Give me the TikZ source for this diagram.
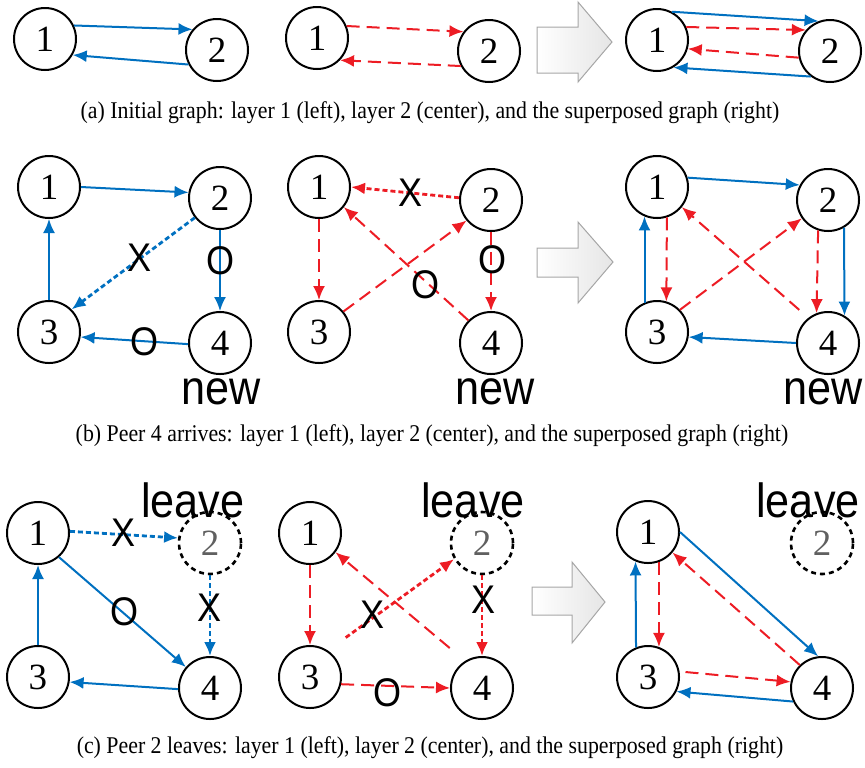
\documentclass[tikz,border=0pt]{standalone}
\usepackage{fontspec}
\setmainfont{Liberation Serif}
\newfontfamily\labelfont{Liberation Sans}
\usepackage{tikz}
\usetikzlibrary{arrows.meta}
\definecolor{myblue}{RGB}{0,112,192}
\definecolor{myred}{RGB}{237,28,36}
\tikzset{
  peer/.style={circle,draw,line width=1pt,inner sep=0pt,minimum size=31pt,font=\fontsize{18.5}{20}\selectfont},
  gone/.style={peer,dash pattern=on 2.5pt off 2pt,line width=1.3pt,text=gray!75!black},
  lyr1/.style={draw=myblue,line width=1pt,-{Latex[length=7pt,width=6pt]}},
  lyr2/.style={draw=myred,line width=1pt,dash pattern=on 6.5pt off 3.5pt,-{Latex[length=7pt,width=6pt]}},
  cut/.style={dash pattern=on 2.5pt off 1.5pt,line width=1.4pt},
  tag/.style={inner sep=0pt,font=\labelfont\fontsize{20}{20}\selectfont,xscale=0.9},
  note/.style={inner sep=0pt,font=\labelfont\fontsize{24}{24}\selectfont,xscale=0.9},
  capt/.style={inner sep=0pt,font=\fontsize{12}{13}\selectfont,xscale=0.91},
  bigarrow/.style={draw=gray!70,line width=0.5pt,left color=white,right color=gray!20}
}

\begin{document}
\begin{tikzpicture}[x=0.5pt,y=-0.5pt]
   \useasboundingbox (0,0) rectangle (865,767);
   % (a)
   \node[peer] (aL1) at (45,39) {1};
   \node[peer] (aL2) at (217,50) {2};
   \node[peer] (aC1) at (317,38) {1};
   \node[peer] (aC2) at (489,51) {2};
   \node[peer] (aR1) at (657,40) {1};
   \node[peer] (aR2) at (830,51) {2};
   \draw[lyr1] (aL1.25) -- (aL2.140);
   \draw[lyr1] (aL2.207) -- (aL1.330);
   \draw[lyr2] (aC1.22) -- (aC2.143);
   \draw[lyr2] (aC2.208) -- (aC1.316);
   \draw[lyr1] (aR1.62) -- (aR2.111);
   \draw[lyr2] (aR1.24) -- (aR2.139);
   \draw[lyr2] (aR2.192) -- (aR1.344);
   \draw[lyr1] (aR2.233) -- (aR1.301);
   \draw[bigarrow] (537,27) -- (578,27) -- (578,2) -- (612,42) -- (578,82) -- (578,73) -- (537,73) -- cycle;
   \node[capt] (capa) at (430,113) {(a) Initial graph: layer 1 (left), layer 2 (center), and the superposed graph (right)};
   % (b)
   \node[peer] (bL1) at (49,187) {1};
   \node[peer] (bL2) at (220,198) {2};
   \node[peer] (bL3) at (49,332) {3};
   \node[peer] (bL4) at (220,343) {4};
   \node[peer] (bC1) at (319,187) {1};
   \node[peer] (bC2) at (491,200) {2};
   \node[peer] (bC3) at (319,332) {3};
   \node[peer] (bC4) at (491,343) {4};
   \node[peer] (bR1) at (657,187) {1};
   \node[peer] (bR2) at (828,200) {2};
   \node[peer] (bR3) at (657,332) {3};
   \node[peer] (bR4) at (828,343) {4};
   \draw[lyr1] (bL1.0) -- (bL2.170);
   \draw[lyr1,cut] (bL2.218) -- (bL3.45);
   \draw[lyr1] (bL2.270) -- (bL4.90);
   \draw[lyr1] (bL3.90) -- (bL1.270);
   \draw[lyr1] (bL4.182) -- (bL3.351);
   \draw[lyr2,cut] (bC2.176) -- (bC1.0);
   \draw[lyr2] (bC1.270) -- (bC3.90);
   \draw[lyr2] (bC4.135) -- (bC1.321);
   \draw[lyr2] (bC3.40) -- (bC2.220);
   \draw[lyr2] (bC2.270) -- (bC4.90);
   \draw[lyr1] (bR1.17) -- (bR2.152);
   \draw[lyr2] (bR1.288) -- (bR3.73);
   \draw[lyr1] (bR3.113) -- (bR1.247);
   \draw[lyr2,shorten <=6pt] (bR4.128) -- (bR1.321);
   \draw[lyr2] (bR3.44) -- (bR2.215);
   \draw[lyr2] (bR2.252) -- (bR4.111);
   \draw[lyr1] (bR2.300) -- (bR4.59);
   \draw[lyr1] (bR4.180) -- (bR3.351);
   \node[tag] (bx1) at (140,258) {X};
   \node[tag] (bo1) at (220,261) {O};
   \node[tag] (bo2) at (144,342) {O};
   \node[tag] (bx2) at (410,193) {X};
   \node[tag] (bo3) at (425,285) {O};
   \node[tag] (bo4) at (492,260) {O};
   \node[note] (bnewL) at (221,392) {new};
   \node[note] (bnewC) at (495,392) {new};
   \node[note] (bnewR) at (823,392) {new};
   \draw[bigarrow] (537,248) -- (578,248) -- (578,222) -- (613,262) -- (578,303) -- (578,277) -- (537,277) -- cycle;
   \node[capt] (capb) at (432,436) {(b) Peer 4 arrives: layer 1 (left), layer 2 (center), and the superposed graph (right)};
   % (c)
   \node[peer] (cL1) at (38,533) {1};
   \node[gone] (cL2) at (210,543) {2};
   \node[peer] (cL3) at (38,677) {3};
   \node[peer] (cL4) at (210,688) {4};
   \node[peer] (cC1) at (310,533) {1};
   \node[gone] (cC2) at (482,543) {2};
   \node[peer] (cC3) at (310,677) {3};
   \node[peer] (cC4) at (482,688) {4};
   \node[peer] (cR1) at (648,532) {1};
   \node[gone] (cR2) at (822,543) {2};
   \node[peer] (cR3) at (648,677) {3};
   \node[peer] (cR4) at (822,688) {4};
   \draw[lyr1,cut] (cL1.3) -- (cL2.171);
   \draw[lyr1,cut] (cL2.270) -- (cL4.90);
   \draw[lyr1] (cL1.311) -- (cL4.139);
   \draw[lyr1] (cL3.90) -- (cL1.270);
   \draw[lyr1] (cL4.182) -- (cL3.351);
   \draw[lyr2] (cC1.270) -- (cC3.90);
   \draw[lyr2,shorten <=10pt] (cC4.122) -- (cC1.323);
   \draw[lyr2,cut,shorten <=11pt] (cC3.56) -- (cC2.210);
   \draw[lyr2,cut] (cC2.270) -- (cC4.90);
   \draw[lyr2] (cC3.347) -- (cC4.180);
   \draw[lyr1] (cR3.112) -- (cR1.247);
   \draw[lyr2] (cR1.290) -- (cR3.70);
   \draw[lyr1] (cR1.0) -- (cR4.97);
   \draw[lyr2] (cR4.134) -- (cR1.320);
   \draw[lyr2,shorten <=3pt] (cR3.10) -- (cR4.169);
   \draw[lyr1] (cR4.205) -- (cR3.333);
   \node[tag] (cx1) at (124,533) {X};
   \node[tag] (cx2) at (210,608) {X};
   \node[tag] (co1) at (124,612) {O};
   \node[tag] (cx3) at (372,615) {X};
   \node[tag] (cx4) at (483,600) {X};
   \node[tag] (co2) at (387,693) {O};
   \node[note] (cgoneL) at (193,500) {leave};
   \node[note] (cgoneC) at (473,500) {leave};
   \node[note] (cgoneR) at (808,500) {leave};
   \draw[bigarrow] (532,587) -- (572,587) -- (572,562) -- (605,602) -- (572,643) -- (572,615) -- (532,615) -- cycle;
   \node[capt] (capc) at (430,748) {(c) Peer 2 leaves: layer 1 (left), layer 2 (center), and the superposed graph (right)};
\end{tikzpicture}
\end{document}
